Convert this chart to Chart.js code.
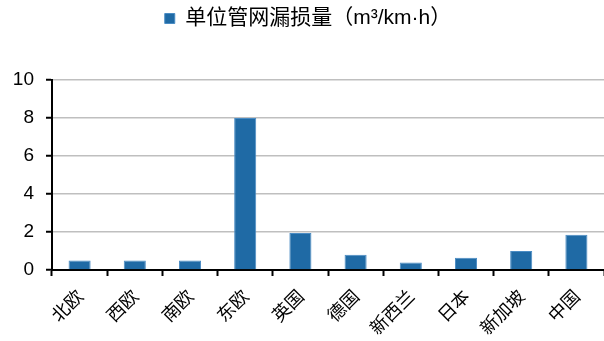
<!DOCTYPE html>
<html lang="zh">
<head>
<meta charset="UTF-8">
<title>单位管网漏损量</title>
<script src="https://cdn.jsdelivr.net/npm/chart.js"></script>
<style>
  html, body { margin: 0; padding: 0; background: #fff; }
  .wrap { width: 604px; height: 341px; position: relative; }
</style>
</head>
<body>
<div class="wrap"><canvas id="c"></canvas></div>
<script>
const regions = ['北欧', '西欧', '南欧', '东欧', '英国', '德国', '新西兰', '日本', '新加坡', '中国'];
const leakage = [0.5, 0.5, 0.5, 8.0, 1.95, 0.8, 0.4, 0.65, 1.0, 1.85];
const seriesName = '单位管网漏损量（m³/km·h）';
const yTicks = [0, 2, 4, 6, 8, 10];

const cjk = '"Noto Sans CJK SC", sans-serif';
const latin = 'Arial, "Liberation Sans", sans-serif';

// leave a gap between the legend and the plot
const legendGap = {
  id: 'legendGap',
  beforeInit(chart) {
    const fit = chart.legend.fit;
    chart.legend.fit = function () {
      fit.call(this);
      this.height = 78;
    };
  }
};

new Chart(document.getElementById('c'), {
  type: 'bar',
  data: {
    labels: regions,
    datasets: [{
      label: seriesName,
      data: leakage,
      backgroundColor: '#1f6aa5',
      borderColor: '#4a8cc4',
      borderWidth: 1,
      barPercentage: 0.4,
      categoryPercentage: 1
    }]
  },
  plugins: [legendGap],
  options: {
    responsive: true,
    maintainAspectRatio: false,
    animation: false,
    layout: { padding: { top: 2, right: -8, left: 4, bottom: 0 } },
    plugins: {
      legend: {
        position: 'top',
        labels: {
          boxWidth: 10,
          boxHeight: 10,
          color: '#000',
          font: { family: 'Arial, "Liberation Sans", "Noto Sans CJK SC", sans-serif', size: 21 },
          padding: 6
        }
      },
      tooltip: { enabled: false }
    },
    scales: {
      x: {
        afterFit(axis) { axis.height = 71; },
        grid: {
          offset: true,
          drawOnChartArea: false,
          drawTicks: true,
          tickLength: 6,
          tickColor: '#000',
          tickWidth: 2
        },
        border: { color: '#000', width: 2 },
        ticks: {
          minRotation: 45,
          maxRotation: 45,
          color: '#000',
          font: { family: cjk, size: 18 },
          padding: 9
        }
      },
      y: {
        min: 0,
        max: 10,
        afterBuildTicks(axis) { axis.ticks = yTicks.map(v => ({ value: v })); },
        afterFit(axis) { axis.width = 48; },
        grid: {
          color: '#bfbfbf',
          lineWidth: 1.5,
          tickLength: 6,
          tickColor: '#000',
          tickWidth: 2
        },
        border: { color: '#000', width: 2 },
        ticks: {
          color: '#000',
          font: { family: latin, size: 19 },
          padding: 12
        }
      }
    }
  }
});
</script>
</body>
</html>
